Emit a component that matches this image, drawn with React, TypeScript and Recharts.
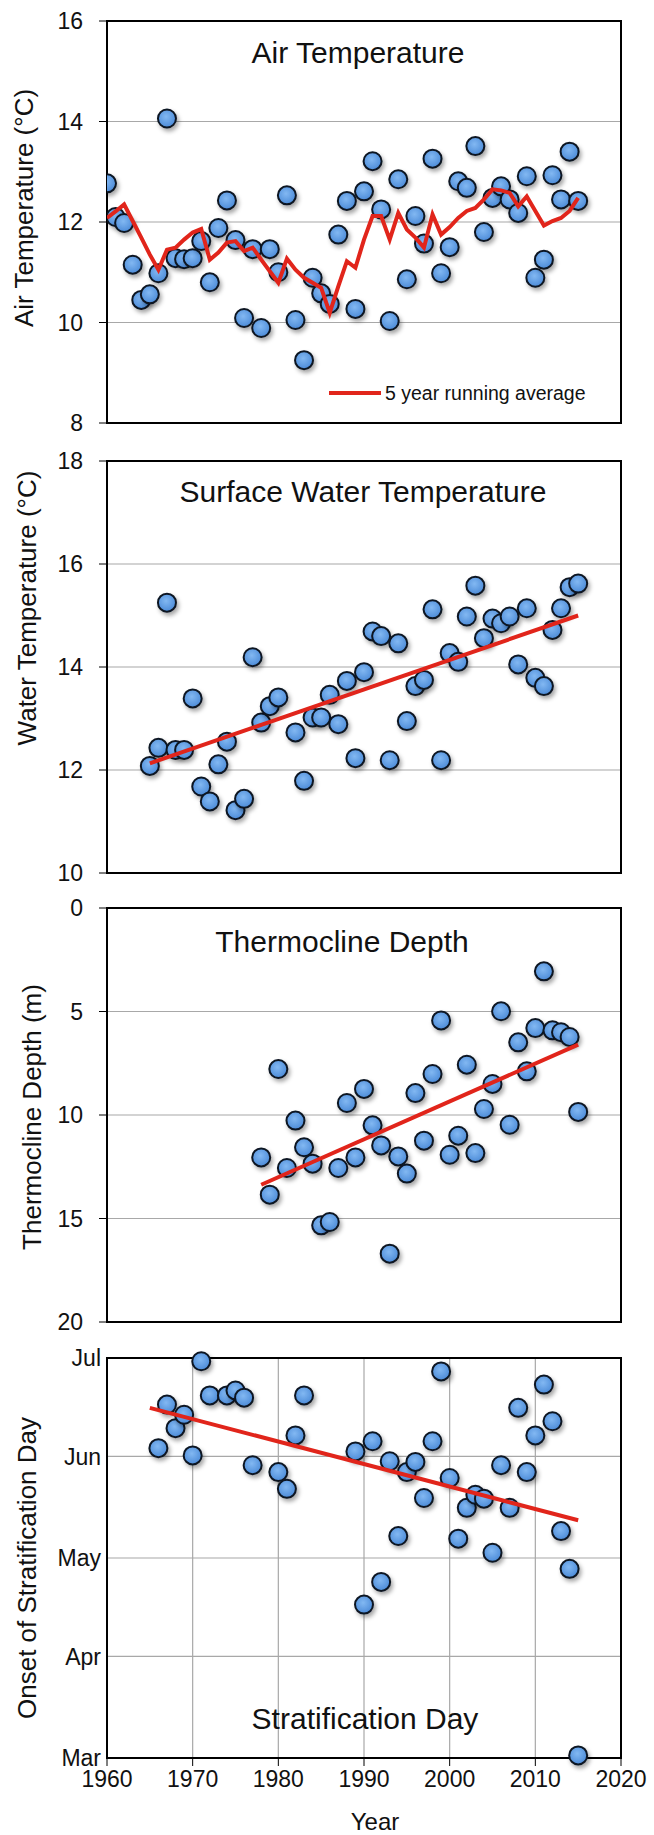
import React from "react";
import {
  ScatterChart,
  Scatter,
  XAxis,
  YAxis,
  CartesianGrid,
  ReferenceArea,
  Label,
} from "recharts";

const FONT = "'Liberation Sans', Arial, sans-serif";
const RED = "#e1251b";
const GRID = "#a8a8a8";

const decades = [1960, 1970, 1980, 1990, 2000, 2010, 2020];

// Air temperature, annual values and 5 year running average
const airYears = [
  1960, 1961, 1962, 1963, 1964, 1965, 1966, 1967, 1968, 1969,
  1970, 1971, 1972, 1973, 1974, 1975, 1976, 1977, 1978, 1979,
  1980, 1981, 1982, 1983, 1984, 1985, 1986, 1987, 1988, 1989,
  1990, 1991, 1992, 1993, 1994, 1995, 1996, 1997, 1998, 1999,
  2000, 2001, 2002, 2003, 2004, 2005, 2006, 2007, 2008, 2009,
  2010, 2011, 2012, 2013, 2014, 2015,
];
const airTemp = [
  12.77, 12.1, 11.98, 11.15, 10.45, 10.56, 10.98, 14.06, 11.28, 11.26,
  11.28, 11.62, 10.8, 11.88, 12.43, 11.64, 10.09, 11.46, 9.89, 11.46,
  11.0, 12.53, 10.05, 9.25, 10.89, 10.58, 10.37, 11.75, 12.42, 10.27,
  12.61, 13.21, 12.25, 10.03, 12.85, 10.86, 12.12, 11.57, 13.26, 10.98,
  11.5, 12.81, 12.68, 13.51, 11.8, 12.48, 12.71, 12.45, 12.18, 12.91,
  10.89, 11.25, 12.93, 12.45, 13.4, 12.42,
];
const airAvg = [
  12.08, 12.21, 12.35, 12.02, 11.69, 11.35, 11.05, 11.45, 11.49, 11.65,
  11.79, 11.86, 11.25, 11.39, 11.59, 11.62, 11.42, 11.49, 11.25, 11.02,
  10.79, 11.27, 11.05, 10.89, 10.79, 10.69, 10.19, 10.72, 11.22, 11.09,
  11.65, 12.12, 12.12, 11.65, 12.18, 11.85, 11.69, 11.49, 12.15, 11.75,
  11.9, 12.08, 12.22, 12.28, 12.45, 12.65, 12.63, 12.58, 12.31, 12.51,
  12.22, 11.93, 12.02, 12.08, 12.22, 12.48,
];

// Surface water temperature
const waterYears = [
  1965, 1966, 1967, 1968, 1969, 1970, 1971, 1972, 1973, 1974,
  1975, 1976, 1977, 1978, 1979, 1980, 1982, 1983, 1984, 1985,
  1986, 1987, 1988, 1989, 1990, 1991, 1992, 1993, 1994, 1995,
  1996, 1997, 1998, 1999, 2000, 2001, 2002, 2003, 2004, 2005,
  2006, 2007, 2008, 2009, 2010, 2011, 2012, 2013, 2014, 2015,
];
const waterTemp = [
  12.08, 12.43, 15.25, 12.39, 12.39, 13.39, 11.68, 11.39, 12.11, 12.55,
  11.22, 11.44, 14.19, 12.92, 13.24, 13.41, 12.73, 11.79, 13.02, 13.02,
  13.46, 12.89, 13.73, 12.23, 13.9, 14.69, 14.6, 12.19, 14.46, 12.95,
  13.63, 13.75, 15.12, 12.19, 14.27, 14.1, 14.98, 15.58, 14.56, 14.94,
  14.85, 14.98, 14.05, 15.14, 13.79, 13.63, 14.72, 15.14, 15.55, 15.62,
];
const waterTrendYears = [1965, 2015];
const waterTrend = [12.13, 15.0];

// Thermocline depth (m)
const depthYears = [
  1978, 1979, 1980, 1981, 1982, 1983, 1984, 1985, 1986, 1987,
  1988, 1989, 1990, 1991, 1992, 1993, 1994, 1995, 1996, 1997,
  1998, 1999, 2000, 2001, 2002, 2003, 2004, 2005, 2006, 2007,
  2008, 2009, 2010, 2011, 2012, 2013, 2014, 2015,
];
const depth = [
  12.05, 13.85, 7.78, 12.56, 10.27, 11.56, 12.35, 15.33, 15.17, 12.56,
  9.42, 12.05, 8.74, 10.5, 11.47, 16.7, 12.0, 12.83, 8.94, 11.24,
  8.02, 5.43, 11.92, 11.0, 7.57, 11.84, 9.71, 8.5, 4.99, 10.47,
  6.49, 7.89, 5.8, 3.06, 5.91, 6.0, 6.23, 9.85,
];
const depthTrendYears = [1978, 2015];
const depthTrend = [13.37, 6.6];

// Onset of stratification, day of year
const stratYears = [
  1966, 1967, 1968, 1969, 1970, 1971, 1972, 1974, 1975, 1976,
  1977, 1980, 1981, 1982, 1983, 1989, 1990, 1991, 1992, 1993,
  1994, 1995, 1996, 1997, 1998, 1999, 2000, 2001, 2002, 2003,
  2004, 2005, 2006, 2007, 2008, 2009, 2010, 2011, 2012, 2013,
  2014, 2015,
];
const stratDay = [
  154.5, 167.8, 160.6, 164.7, 152.3, 181, 170.6, 170.6, 172.1, 169.9,
  149.3, 147.2, 142.1, 158.4, 170.6, 153.5, 106.8, 156.6, 113.7, 150.5,
  127.7, 147.2, 150.3, 139.3, 156.6, 177.9, 145.4, 126.9, 136.3, 140.3,
  139.1, 122.6, 149.3, 136.3, 166.8, 147.2, 158.4, 173.9, 162.7, 129.2,
  117.7, 60.8,
];
const stratTrendYears = [1965, 2015];
const stratTrend = [166.8, 132.5];
const monthTicks = [60, 91, 121, 152, 182];
const monthLabels = ["Mar", "Apr", "May", "Jun", "Jul"];

const pts = (xs: number[], ys: number[]) => xs.map((x, i) => ({ year: x, value: ys[i] }));

const Dot = (props: any) => {
  const { cx, cy } = props;
  if (cx == null || cy == null) return <g />;
  return (
    <circle
      cx={cx}
      cy={cy}
      r={9}
      fill="url(#dotFill)"
      stroke="#0c1522"
      strokeWidth={2}
      filter="url(#dotShadow)"
    />
  );
};
const NoDot = () => <g />;

const tickStyle = { fontSize: 23, fill: "#111", fontFamily: FONT };

function yTitle(text: string, x: number, y: number) {
  return (
    <Label
      content={() => (
        <text
          x={x}
          y={y}
          transform={`rotate(-90 ${x} ${y})`}
          textAnchor="middle"
          dominantBaseline="central"
          fontSize={26}
          fontFamily={FONT}
          fill="#111"
        >
          {text}
        </text>
      )}
    />
  );
}

function title(text: string, x: number, y: number) {
  return (
    <Label
      content={() => (
        <text x={x} y={y} textAnchor="middle" fontSize={30} fontFamily={FONT} fill="#111">
          {text}
        </text>
      )}
    />
  );
}

const W = 654;
const margin = (top: number, bottom: number) => ({ top, bottom, left: 0, right: 33 });

function HiddenX({ children }: { children?: React.ReactNode }) {
  return null;
}

export default function App() {
  const air = pts(airYears, airTemp);
  const avg = pts(airYears, airAvg);
  const water = pts(waterYears, waterTemp);
  const waterLine = pts(waterTrendYears, waterTrend);
  const dep = pts(depthYears, depth);
  const depLine = pts(depthTrendYears, depthTrend);
  const strat = pts(stratYears, stratDay);
  const stratLine = pts(stratTrendYears, stratTrend);

  const xProps = {
    type: "number" as const,
    dataKey: "year",
    domain: [1960, 2020],
    ticks: decades,
    allowDataOverflow: true,
  };

  return (
    <div style={{ position: "absolute", left: 0, top: 0, width: W, height: 1835, background: "#fff" }}>
      <svg width={0} height={0} style={{ position: "absolute" }}>
        <defs>
          <radialGradient id="dotFill" cx="45%" cy="40%" r="60%">
            <stop offset="0%" stopColor="#82b8f2" />
            <stop offset="100%" stopColor="#4c8bd8" />
          </radialGradient>
          <filter id="dotShadow" x="-50%" y="-50%" width="200%" height="200%">
            <feDropShadow dx={2} dy={3} stdDeviation={2} floodColor="#000" floodOpacity={0.35} />
          </filter>
        </defs>
      </svg>

      {/* Air temperature */}
      <div style={{ position: "absolute", left: 0, top: 0 }}>
        <ScatterChart width={W} height={460} margin={margin(21, 36)}>
          <CartesianGrid stroke={GRID} strokeWidth={1.2} />
          <XAxis {...xProps} height={1} tick={false} tickLine={false} axisLine={false}>
            <Label
              content={() => (
                <g>
                  <text x={358} y={63} textAnchor="middle" fontSize={30} fontFamily={FONT} fill="#111">
                    Air Temperature
                  </text>
                  <line x1={329} y1={393} x2={381} y2={393} stroke={RED} strokeWidth={4} />
                  <text x={385} y={400} fontSize={19.5} fontFamily={FONT} fill="#111">
                    5 year running average
                  </text>
                </g>
              )}
            />
          </XAxis>
          <YAxis
            type="number"
            dataKey="value"
            domain={[8, 16]}
            ticks={[8, 10, 12, 14, 16]}
            width={107}
            tick={tickStyle}
            tickSize={8}
            tickMargin={16}
            tickLine={{ stroke: "#000" }}
            axisLine={{ stroke: "#000", strokeWidth: 2 }}
          >
            {yTitle("Air Temperature (°C)", 24, 208)}
          </YAxis>
          <ReferenceArea x1={1960} x2={2020} y1={8} y2={16} fill="none" stroke="#000" strokeWidth={2} />
          <Scatter data={air} shape={Dot} isAnimationActive={false} />
          <Scatter
            data={avg}
            shape={NoDot}
            line={{ stroke: RED, strokeWidth: 4, strokeLinejoin: "miter" }}
            isAnimationActive={false}
          />
        </ScatterChart>
      </div>

      {/* Surface water temperature */}
      <div style={{ position: "absolute", left: 0, top: 420 }}>
        <ScatterChart width={W} height={480} margin={margin(41, 26)}>
          <CartesianGrid stroke={GRID} strokeWidth={1.2} />
          <XAxis {...xProps} height={1} tick={false} tickLine={false} axisLine={false}>
            {title("Surface Water Temperature", 363, 82)}
          </XAxis>
          <YAxis
            type="number"
            dataKey="value"
            domain={[10, 18]}
            ticks={[10, 12, 14, 16, 18]}
            width={107}
            tick={tickStyle}
            tickSize={8}
            tickMargin={16}
            tickLine={{ stroke: "#000" }}
            axisLine={{ stroke: "#000", strokeWidth: 2 }}
          >
            {yTitle("Water Temperature (°C)", 27, 188)}
          </YAxis>
          <ReferenceArea x1={1960} x2={2020} y1={10} y2={18} fill="none" stroke="#000" strokeWidth={2} />
          <Scatter data={water} shape={Dot} isAnimationActive={false} />
          <Scatter data={waterLine} shape={NoDot} line={{ stroke: RED, strokeWidth: 4 }} isAnimationActive={false} />
        </ScatterChart>
      </div>

      {/* Thermocline depth */}
      <div style={{ position: "absolute", left: 0, top: 870 }}>
        <ScatterChart width={W} height={480} margin={margin(38, 27)}>
          <CartesianGrid stroke={GRID} strokeWidth={1.2} />
          <XAxis {...xProps} height={1} tick={false} tickLine={false} axisLine={false}>
            {title("Thermocline Depth", 342, 82)}
          </XAxis>
          <YAxis
            type="number"
            dataKey="value"
            domain={[0, 20]}
            ticks={[0, 5, 10, 15, 20]}
            reversed
            width={107}
            tick={tickStyle}
            tickSize={8}
            tickMargin={16}
            tickLine={{ stroke: "#000" }}
            axisLine={{ stroke: "#000", strokeWidth: 2 }}
          >
            {yTitle("Thermocline  Depth (m)", 32, 247)}
          </YAxis>
          <ReferenceArea x1={1960} x2={2020} y1={0} y2={20} fill="none" stroke="#000" strokeWidth={2} />
          <Scatter data={dep} shape={Dot} isAnimationActive={false} />
          <Scatter data={depLine} shape={NoDot} line={{ stroke: RED, strokeWidth: 4 }} isAnimationActive={false} />
        </ScatterChart>
      </div>

      {/* Stratification day */}
      <div style={{ position: "absolute", left: 0, top: 1320 }}>
        <ScatterChart width={W} height={515} margin={margin(38, 37)}>
          <CartesianGrid stroke={GRID} strokeWidth={1.2} />
          <XAxis
            {...xProps}
            height={40}
            tick={tickStyle}
            tickSize={8}
            tickMargin={5}
            tickLine={{ stroke: "#000" }}
            axisLine={{ stroke: "#000", strokeWidth: 2 }}
          >
            <Label
              content={() => (
                <g>
                  <text x={365} y={409} textAnchor="middle" fontSize={30} fontFamily={FONT} fill="#111">
                    Stratification Day
                  </text>
                  <text x={375} y={510} textAnchor="middle" fontSize={24} fontFamily={FONT} fill="#111">
                    Year
                  </text>
                </g>
              )}
            />
          </XAxis>
          <YAxis
            type="number"
            dataKey="value"
            domain={[60, 182]}
            ticks={monthTicks}
            tickFormatter={(v: number) => monthLabels[monthTicks.indexOf(v)]}
            width={107}
            tick={tickStyle}
            tickSize={0}
            tickMargin={6}
            tickLine={false}
            axisLine={{ stroke: "#000", strokeWidth: 2 }}
          >
            {yTitle("Onset of Stratification Day", 27, 248)}
          </YAxis>
          <ReferenceArea x1={1960} x2={2020} y1={60} y2={182} fill="none" stroke="#000" strokeWidth={2} />
          <Scatter data={strat} shape={Dot} isAnimationActive={false} />
          <Scatter data={stratLine} shape={NoDot} line={{ stroke: RED, strokeWidth: 4 }} isAnimationActive={false} />
        </ScatterChart>
      </div>
    </div>
  );
}
